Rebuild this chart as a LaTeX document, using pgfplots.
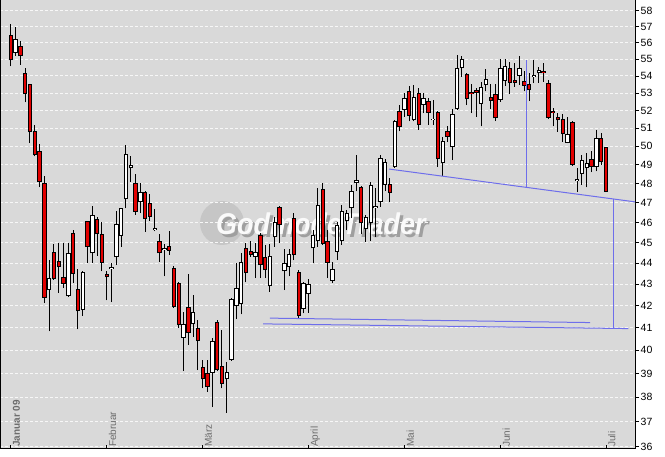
\documentclass[border=0pt]{standalone}
\usepackage{fontspec}
\setmainfont{Liberation Sans}
\usepackage{pgfplots}
\pgfplotsset{compat=1.18}
\usepackage{pgfplotstable}

\definecolor{bgcol}{HTML}{D9D9D9}
\definecolor{linecol}{RGB}{110,110,235}
\definecolor{candred}{RGB}{225,0,0}

% up candles (close > open): x open high low close
\pgfplotstableread{
x o h l c
1 55.36 57.0 55.2 56.23
8 42.72 44.15 40.83 43.28
12 42.44 44.97 42.4 44.47
15 41.8 43.6 41.55 43.57
17 44.47 46.84 44.02 46.36
21 43.74 44.02 42.16 43.82
22 44.29 46.6 43.91 45.93
23 45.33 46.75 44.8 46.72
24 47.18 50.06 46.72 49.57
25 48.8 49.45 48.1 48.96
27 47.06 48.02 46.47 47.58
30 45.62 46.67 45.55 45.74
32 44.66 44.94 43.37 44.74
36 40.54 41.7 39.12 41.15
38 41.15 42.48 40.6 41.7
42 39.03 40.54 37.59 40.4
45 38.75 39.5 37.35 39.05
46 39.58 42.35 39.55 42.3
47 42.0 44.0 41.38 42.82
48 42.08 44.47 41.6 44.04
51 44.29 45.0 43.28 44.53
54 42.89 44.94 42.65 44.35
55 45.26 46.3 44.8 46.0
57 43.6 44.68 42.72 44.02
58 43.81 44.68 43.37 44.43
61 41.84 43.12 41.65 43.05
62 42.55 43.23 41.67 43.0
63 44.72 45.6 44.0 45.37
64 45.1 47.77 44.8 46.88
67 43.17 44.07 43.05 43.71
68 44.56 46.0 44.15 45.85
69 45.1 46.88 44.9 46.6
70 46.07 46.65 45.6 46.47
71 46.72 47.93 46.22 47.63
72 48.02 49.5 47.6 48.2
74 45.66 46.4 45.05 46.27
75 45.98 48.1 45.1 47.93
76 46.76 47.75 45.3 46.84
77 47.06 49.5 46.8 49.36
78 47.93 49.3 47.6 49.17
80 48.9 51.45 48.85 51.38
82 52.03 53.0 51.65 52.74
84 51.45 53.45 51.38 52.75
86 52.32 53.0 51.85 52.7
88 51.46 52.6 51.2 51.54
90 49.08 50.5 48.4 50.3
92 49.98 52.07 49.25 51.78
93 52.07 55.25 52.0 54.5
94 54.5 55.2 53.95 55.0
98 52.38 53.65 51.1 53.35
99 53.48 54.4 53.1 53.8
102 52.6 55.0 52.5 54.45
103 53.7 55.0 53.4 54.6
106 54.02 55.2 53.47 54.5
109 53.96 54.95 53.57 54.04
110 54.15 54.55 53.6 54.35
116 50.2 51.65 50.17 50.67
118 48.16 48.82 47.55 48.24
119 48.52 49.55 47.93 49.23
120 48.82 49.65 47.8 49.08
122 48.88 50.9 48.65 50.45
}\upcandles

% down candles (close < open)
\pgfplotstableread{
x o h l c
0 56.48 57.16 54.56 54.92
2 55.8 56.1 54.66 55.16
3 54.18 54.46 52.46 52.97
4 53.51 53.55 50.17 50.78
5 50.83 51.19 49.45 49.50
6 49.75 50.13 47.81 48.10
7 48.05 48.4 42.12 42.36
9 44.53 44.94 43.2 43.23
10 44.09 45.0 42.6 43.81
11 43.33 45.0 42.81 43.0
13 45.49 45.6 43.05 43.47
14 42.77 43.71 40.93 41.74
16 46.07 46.1 43.99 44.8
18 46.18 46.3 44.35 45.41
19 45.41 46.0 43.6 44.02
20 43.49 43.6 42.24 43.32
26 48.02 48.5 46.4 46.55
28 47.55 47.6 45.54 46.17
29 46.98 47.45 46.1 46.3
31 45.08 45.43 44.07 44.47
33 44.84 45.55 44.4 44.6
34 43.78 43.84 41.9 41.93
35 43.05 43.1 41.0 41.11
37 41.93 43.5 40.24 40.76
39 40.98 41.35 39.15 40.4
40 39.27 39.58 38.37 38.75
41 39.0 39.58 38.23 38.42
43 41.24 41.35 39.1 39.15
44 39.33 40.9 38.37 38.55
49 44.72 45.0 43.08 43.52
50 44.6 45.1 44.3 44.39
52 45.37 45.45 43.28 43.9
53 44.29 44.9 43.28 43.67
56 46.77 46.85 44.97 45.88
59 46.22 46.47 44.15 44.37
60 43.57 43.68 41.45 41.52
65 47.71 48.02 44.9 44.92
66 45.1 45.62 43.28 44.0
73 47.81 47.85 45.4 45.95
79 47.97 48.3 47.06 47.5
81 51.99 52.3 50.82 51.05
83 53.1 53.4 51.38 51.7
85 53.0 53.3 50.9 51.18
87 52.55 52.7 51.2 51.85
89 51.9 51.95 48.9 49.3
91 50.85 51.1 50.25 50.53
95 54.1 54.2 52.3 52.65
96 53.04 53.5 51.85 52.93
97 53.15 53.3 51.65 53.0
100 52.75 53.5 52.1 52.55
101 52.95 53.5 51.4 51.55
104 54.45 54.85 52.93 53.6
105 53.77 54.75 53.37 53.57
107 53.7 54.3 53.1 53.41
108 53.5 54.2 52.55 53.15
111 54.3 54.75 53.67 54.15
112 53.6 53.77 51.5 51.58
113 51.99 52.15 51.1 51.88
114 51.65 51.88 50.81 51.43
115 51.51 51.8 50.26 50.67
117 51.34 51.4 48.95 49.0
121 49.3 49.73 48.6 48.87
123 50.45 50.72 49.0 49.15
124 49.95 49.95 47.55 47.55
}\downcandles

\begin{document}
\begin{tikzpicture}
\useasboundingbox (0pt,0pt) rectangle (665pt,456pt);
\fill[bgcol] (0pt,7pt) rectangle (635pt,456pt);
% watermark
\fill[gray!45] (222pt,233pt) circle (22pt);
\node[font=\bfseries\itshape\fontsize{30}{30}\selectfont, text=gray!75, xscale=0.9, anchor=base west, inner sep=0pt] at (219pt,218pt) {GodmodeTrader};
\node[font=\bfseries\itshape\fontsize{30}{30}\selectfont, text=white!96!gray, xscale=0.9, anchor=base west, inner sep=0pt] at (216pt,221pt) {GodmodeTrader};
\begin{axis}[
  at={(0pt,7pt)}, anchor=south west,
  scale only axis, width=635pt, height=449pt,
  xmin=-2.23, xmax=130.06,
  ymode=log, ymin=35.91, ymax=58.68,
  axis line style={black, line width=1pt},
  ytick={36,37,38,39,40,41,42,43,44,45,46,47,48,49,50,51,52,53,54,55,56,57,58},
  yticklabels={36,37,38,39,40,41,42,43,44,45,46,47,48,49,50,51,52,53,54,55,56,57,58},
  ytick pos=right, yticklabel pos=right, ytick align=outside,
  yticklabel style={font=\fontsize{10.5}{12}\selectfont, inner sep=1.5pt},
  xtick={0,20,40,62,82,102,124},
  xticklabels={\textbf{Januar 09},Februar,März,April,Mai,Juni,Juli},
  xtick pos=lower, xticklabel pos=lower, xtick align=inside,
  xticklabel style={rotate=90, anchor=north west, inner sep=2pt, text=gray!85!black, font=\fontsize{10}{11}\selectfont},
  major tick length=4pt,
  tick style={black, line width=0.8pt},
  minor tick num=0,
  ymajorgrids, 
  major grid style={color=white!94!gray, dash pattern=on 3pt off 2pt, line width=1pt},
  clip=true,
]
% wicks
\addplot[draw=none, forget plot, error bars/.cd, y dir=plus, y explicit, error mark=none, error bar style={draw=black, line width=1pt}]
  table[x=x, y=l, y error expr=\thisrow{h}-\thisrow{l}] {\upcandles};
\addplot[draw=none, forget plot, error bars/.cd, y dir=plus, y explicit, error mark=none, error bar style={draw=black, line width=1pt}]
  table[x=x, y=l, y error expr=\thisrow{h}-\thisrow{l}] {\downcandles};
% bodies (outline)
\addplot[draw=none, forget plot, error bars/.cd, y dir=plus, y explicit, error mark=none, error bar style={draw=black, line width=4.4pt}]
  table[x=x, y=o, y error expr=\thisrow{c}-\thisrow{o}] {\upcandles};
\addplot[draw=none, forget plot, error bars/.cd, y dir=plus, y explicit, error mark=none, error bar style={draw=black, line width=4.4pt}]
  table[x=x, y=c, y error expr=\thisrow{o}-\thisrow{c}] {\downcandles};
% bodies (fill)
\addplot[draw=none, forget plot, error bars/.cd, y dir=plus, y explicit, error mark=none, error bar style={draw=white, line width=2.4pt, shorten <=1pt, shorten >=1pt}]
  table[x=x, y=o, y error expr=\thisrow{c}-\thisrow{o}] {\upcandles};
\addplot[draw=none, forget plot, error bars/.cd, y dir=plus, y explicit, error mark=none, error bar style={draw=candred, line width=2.4pt, shorten <=1pt, shorten >=1pt}]
  table[x=x, y=c, y error expr=\thisrow{o}-\thisrow{c}] {\downcandles};
% trend lines
\addplot[color=linecol, line width=1pt] coordinates {(78.81,48.77) (130.06,47.05)};
\addplot[color=linecol, line width=1pt] coordinates {(107.5,54.95) (107.5,47.80)};
\addplot[color=linecol, line width=1pt] coordinates {(125.5,47.20) (125.5,40.97)};
\addplot[color=linecol, line width=1pt] coordinates {(54.0,41.43) (120.7,41.23)};
\addplot[color=linecol, line width=1pt] coordinates {(52.6,41.17) (128.7,40.96)};
\end{axis}
\end{tikzpicture}
\end{document}
